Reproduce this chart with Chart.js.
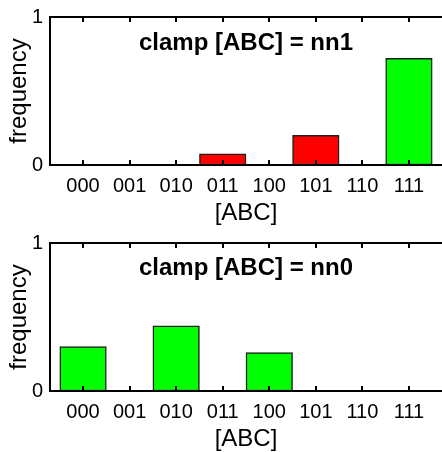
<!DOCTYPE html>
<html>
<head>
<meta charset="utf-8">
<script src="https://cdn.jsdelivr.net/npm/chart.js@4.4.1/dist/chart.umd.min.js"></script>
<style>
  html, body { margin: 0; padding: 0; background: #fff; overflow: hidden; }
  .panel { position: absolute; left: 0; width: 442px; height: 226px; }
</style>
</head>
<body>
<div class="panel" style="top:0"><canvas id="clampOne" width="442" height="226"></canvas></div>
<div class="panel" style="top:226px"><canvas id="clampZero" width="442" height="226"></canvas></div>
<script>
// States of [ABC] and the observed frequencies under each clamp
const states = ['000', '001', '010', '011', '100', '101', '110', '111'];
const nn1Freq = [0, 0, 0, 0.075, 0, 0.2, 0, 0.72];
const nn0Freq = [0.3, 0, 0.44, 0, 0.26, 0, 0, 0];
const yTickValues = [0, 1];

const GREEN = '#00ff00';
const RED = '#ff0000';
const nn1Colors = [GREEN, GREEN, GREEN, RED, GREEN, RED, GREEN, GREEN];
const nn0Colors = [GREEN, GREEN, GREEN, GREEN, GREEN, GREEN, GREEN, GREEN];

const FONT = '"Liberation Sans", Arial, sans-serif';

// Axes box (left/top/bottom), inward x tick marks and the in-plot title
const frameAndTitle = {
    id: 'frameAndTitle',
    afterDraw(chart, args, opts) {
        const { ctx, chartArea: a, scales: { x } } = chart;
        ctx.save();
        ctx.strokeStyle = '#000';
        ctx.lineWidth = 2;
        ctx.lineCap = 'butt';
        ctx.beginPath();
        ctx.moveTo(a.left, a.bottom + 1);
        ctx.lineTo(a.left, a.top - 1);
        ctx.moveTo(a.left - 1, a.top);
        ctx.lineTo(a.right, a.top);
        ctx.moveTo(a.left - 1, a.bottom);
        ctx.lineTo(a.right, a.bottom);
        x.ticks.forEach(t => {
            const px = Math.round(x.getPixelForValue(t.value));
            ctx.moveTo(px, a.top);
            ctx.lineTo(px, a.top + 5);
            ctx.moveTo(px, a.bottom);
            ctx.lineTo(px, a.bottom - 5);
        });
        ctx.stroke();

        ctx.fillStyle = '#000';
        ctx.font = 'bold 24px ' + FONT;
        ctx.textAlign = 'center';
        ctx.textBaseline = 'middle';
        ctx.fillText(opts.text, (a.left + a.right) / 2, a.top + opts.titleOffset);
        ctx.restore();
    }
};

function buildChart(canvasId, freq, colors, title, padTop, titleOffset) {
    const ctx = document.getElementById(canvasId).getContext('2d');
    return new Chart(ctx, {
        type: 'bar',
        data: {
            datasets: [{
                data: freq.map((v, i) => ({ x: i + 1, y: v })),
                backgroundColor: colors,
                borderColor: '#1e1e1e',
                borderWidth: 1.5,
                borderSkipped: false,
                barPercentage: 1,
                categoryPercentage: 1
            }]
        },
        options: {
            responsive: false,
            animation: false,
            devicePixelRatio: 1,
            layout: { padding: { top: padTop, right: 0, bottom: 0, left: 0 } },
            plugins: {
                legend: { display: false },
                tooltip: { enabled: false },
                frameAndTitle: { text: title, titleOffset: titleOffset }
            },
            scales: {
                x: {
                    type: 'linear',
                    offset: false,
                    min: 0.29,
                    max: 8.71,
                    grid: { display: false, drawTicks: false },
                    border: { display: false },
                    afterBuildTicks: s => {
                        s.ticks = states.map((_, i) => ({ value: i + 1 }));
                    },
                    afterFit: s => { s.height = 61; },
                    ticks: {
                        autoSkip: false,
                        maxRotation: 0,
                        padding: 11,
                        color: '#000',
                        font: { family: FONT, size: 20, lineHeight: 1 },
                        callback: v => states[Math.round(v) - 1]
                    },
                    title: {
                        display: true,
                        text: '[ABC]',
                        color: '#000',
                        padding: { top: 0, bottom: 1 },
                        font: { family: FONT, size: 24, lineHeight: 1 }
                    }
                },
                y: {
                    type: 'linear',
                    min: 0,
                    max: 1,
                    grid: { display: false, drawTicks: false },
                    border: { display: false },
                    afterBuildTicks: s => {
                        s.ticks = yTickValues.map(v => ({ value: v }));
                    },
                    afterFit: s => { s.width = 50; },
                    ticks: {
                        padding: 7,
                        color: '#000',
                        font: { family: FONT, size: 20, lineHeight: 1 }
                    },
                    title: {
                        display: true,
                        text: 'frequency',
                        color: '#000',
                        padding: { top: 7, bottom: 0 },
                        font: { family: FONT, size: 24, lineHeight: 1 }
                    }
                }
            }
        },
        plugins: [frameAndTitle]
    });
}

buildChart('clampOne', nn1Freq, nn1Colors, 'clamp [ABC] = nn1', 16, 26);
buildChart('clampZero', nn0Freq, nn0Colors, 'clamp [ABC] = nn0', 13, 25);
</script>
</body>
</html>
